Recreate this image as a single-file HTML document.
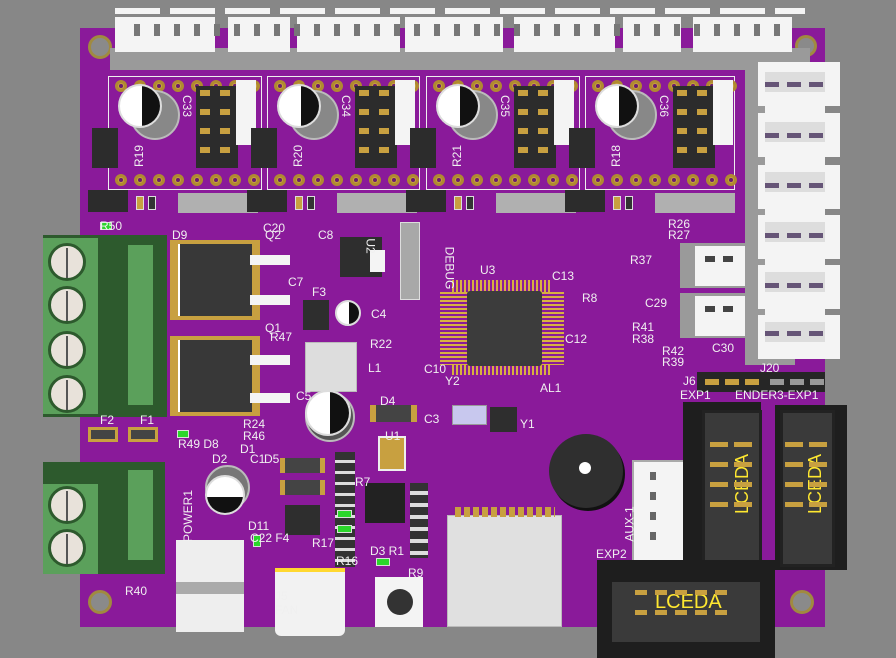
<!DOCTYPE html>
<html><head><meta charset="utf-8"><style>
*{margin:0;padding:0;box-sizing:border-box}
body{width:896px;height:658px;background:#878787;position:relative;overflow:hidden;font-family:"Liberation Sans",sans-serif}
div{position:absolute}
.b{background:#8a1a9a}
.w{background:#f4f4f4}
.g{background:#9a9a9a}
.dk{background:#2e2e2e}
.pad{width:12px;height:12px;border-radius:50%;background:#c8a040;border:3px solid #b08a30}
.pad::after{content:"";position:absolute;left:1px;top:1px;width:4px;height:4px;border-radius:50%;background:#6a1a70}
.t{color:#f0f0f0;font-size:12px;line-height:12px;white-space:nowrap}
.cap{border-radius:50%;background:#fff;border:2px solid #ddd;overflow:hidden}
.cap::after{content:"";position:absolute;right:0;top:0;width:45%;height:100%;background:#111}
.cyl{border-radius:50%;background:#8a8a8a;border:2px solid #bbb}
.smd{background:#c8a040;border:1px solid #ddd}
.r{background:#333;border:1px solid #ddd}
.led{background:#2bd62b;border:1px solid #ddd}
.scr{width:38px;height:38px;border-radius:50%;background:#e8e2da;border:3px solid #2d5a2d}
.scr::after{content:"";position:absolute;left:15px;top:2px;width:2px;height:30px;background:#555}
.hole{border-radius:50%;background:#8a8a8a;border:3px solid #a08a40}
</style></head><body>

<div class="b" style="left:80px;top:28px;width:745px;height:599px"></div>
<div class="hole" style="left:88px;top:35px;width:24px;height:24px"></div>
<div class="hole" style="left:88px;top:590px;width:24px;height:24px"></div>
<div class="hole" style="left:790px;top:590px;width:24px;height:24px"></div>
<div class="hole" style="left:795px;top:35px;width:22px;height:22px"></div>

<!-- top connectors -->
<div class="g" style="left:110px;top:48px;width:700px;height:22px"></div>
<div class="w" style="left:115px;top:17px;width:100px;height:35px"></div>
<div class="w" style="left:228px;top:17px;width:62px;height:35px"></div>
<div class="w" style="left:297px;top:17px;width:103px;height:35px"></div>
<div class="w" style="left:405px;top:17px;width:98px;height:35px"></div>
<div class="w" style="left:514px;top:17px;width:101px;height:35px"></div>
<div class="w" style="left:623px;top:17px;width:58px;height:35px"></div>
<div class="w" style="left:693px;top:17px;width:99px;height:35px"></div>
<div class="w" style="left:115px;top:8px;width:690px;height:6px;background:repeating-linear-gradient(90deg,#f4f4f4 0 45px,#878787 45px 55px)"></div>
<div style="left:120px;top:24px;width:670px;height:12px;background:repeating-linear-gradient(90deg,transparent 0 14px,#777 14px 20px)"></div>

<div id="m"></div>

<!-- right connectors -->
<div class="g" style="left:745px;top:60px;width:50px;height:305px"></div>
<div class="w" style="left:758px;top:62px;width:82px;height:44px"></div>
<div class="w" style="left:758px;top:113px;width:82px;height:44px"></div>
<div class="w" style="left:758px;top:165px;width:82px;height:44px"></div>
<div class="w" style="left:758px;top:215px;width:82px;height:44px"></div>
<div class="w" style="left:758px;top:265px;width:82px;height:44px"></div>
<div class="w" style="left:758px;top:315px;width:82px;height:44px"></div>
<div style="left:765px;top:72px;width:60px;height:285px;background:repeating-linear-gradient(180deg,#ddd 0 20px,#f4f4f4 20px 50px)"></div>
<div style="left:765px;top:82px;width:60px;height:5px;background:repeating-linear-gradient(90deg,#665577 0 14px,transparent 14px 22px)"></div>
<div style="left:765px;top:133px;width:60px;height:5px;background:repeating-linear-gradient(90deg,#665577 0 14px,transparent 14px 22px)"></div>
<div style="left:765px;top:183px;width:60px;height:5px;background:repeating-linear-gradient(90deg,#665577 0 14px,transparent 14px 22px)"></div>
<div style="left:765px;top:233px;width:60px;height:5px;background:repeating-linear-gradient(90deg,#665577 0 14px,transparent 14px 22px)"></div>
<div style="left:765px;top:283px;width:60px;height:5px;background:repeating-linear-gradient(90deg,#665577 0 14px,transparent 14px 22px)"></div>
<div style="left:765px;top:331px;width:60px;height:5px;background:repeating-linear-gradient(90deg,#665577 0 14px,transparent 14px 22px)"></div>
<div class="g" style="left:680px;top:243px;width:75px;height:45px"></div>
<div class="w" style="left:695px;top:246px;width:50px;height:40px"></div>
<div class="g" style="left:680px;top:293px;width:75px;height:45px"></div>
<div class="w" style="left:695px;top:296px;width:50px;height:40px"></div>
<div style="left:705px;top:256px;width:30px;height:6px;background:repeating-linear-gradient(90deg,#444 0 10px,transparent 10px 18px)"></div>
<div style="left:705px;top:306px;width:30px;height:6px;background:repeating-linear-gradient(90deg,#444 0 10px,transparent 10px 18px)"></div>

<!-- terminal blocks -->
<div style="left:43px;top:235px;width:124px;height:182px;background:#2d5a2d"></div>
<div style="left:43px;top:238px;width:55px;height:176px;background:#5ba05b"></div>
<div style="left:128px;top:245px;width:25px;height:160px;background:#5ba05b"></div>
<div class="scr" style="left:48px;top:243px"></div>
<div class="scr" style="left:48px;top:286px"></div>
<div class="scr" style="left:48px;top:331px"></div>
<div class="scr" style="left:48px;top:375px"></div>
<div style="left:43px;top:462px;width:122px;height:112px;background:#2d5a2d"></div>
<div style="left:43px;top:484px;width:55px;height:90px;background:#5ba05b"></div>
<div style="left:128px;top:470px;width:25px;height:90px;background:#5ba05b"></div>
<div class="scr" style="left:48px;top:486px"></div>
<div class="scr" style="left:48px;top:529px"></div>

<!-- mosfets -->
<div style="left:170px;top:240px;width:90px;height:80px;background:#c8a040"></div>
<div style="left:178px;top:244px;width:74px;height:72px;background:#383838;border-left:2px solid #fff"></div>
<div style="left:170px;top:336px;width:90px;height:80px;background:#c8a040"></div>
<div style="left:178px;top:340px;width:74px;height:72px;background:#383838;border-left:2px solid #fff"></div>
<div class="w" style="left:250px;top:255px;width:40px;height:10px"></div>
<div class="w" style="left:250px;top:295px;width:40px;height:10px"></div>
<div class="w" style="left:250px;top:355px;width:40px;height:10px"></div>
<div class="w" style="left:250px;top:393px;width:40px;height:10px"></div>

<!-- center parts -->
<div class="dk" style="left:340px;top:237px;width:42px;height:40px"></div>
<div class="w" style="left:370px;top:250px;width:15px;height:22px"></div>
<div style="left:400px;top:222px;width:20px;height:78px;background:#a8a8a8;border:1px solid #ddd"></div>
<div class="dk" style="left:303px;top:300px;width:26px;height:30px"></div>
<div class="cap" style="left:335px;top:300px;width:26px;height:26px"></div>
<div style="left:305px;top:342px;width:52px;height:50px;background:#ddd;border:1px solid #bbb"></div>
<div class="cyl" style="left:305px;top:392px;width:50px;height:50px;background:#555"></div>
<div class="cap" style="left:305px;top:390px;width:46px;height:46px"></div>
<div style="left:452px;top:280px;width:100px;height:95px;background:repeating-linear-gradient(90deg,#d8b040 0 2px,#8a1a9a 2px 4px)"></div>
<div style="left:440px;top:292px;width:124px;height:73px;background:repeating-linear-gradient(180deg,#d8b040 0 2px,#8a1a9a 2px 4px)"></div>
<div style="left:467px;top:291px;width:75px;height:75px;background:#3c3c3c;border-radius:3px"></div>
<div style="left:370px;top:405px;width:47px;height:17px;background:#444;border-left:6px solid #c8a040;border-right:6px solid #c8a040"></div>
<div style="left:378px;top:436px;width:28px;height:35px;background:#c8a040;border:2px solid #eee"></div>
<div class="dk" style="left:365px;top:483px;width:40px;height:40px;background:#222"></div>
<div style="left:452px;top:405px;width:35px;height:20px;background:#c8c8ee;border:1px solid #999"></div>
<div class="dk" style="left:490px;top:407px;width:27px;height:25px"></div>
<div style="left:280px;top:458px;width:45px;height:15px;background:#444;border-left:5px solid #c8a040;border-right:5px solid #c8a040"></div>
<div style="left:280px;top:480px;width:45px;height:15px;background:#444;border-left:5px solid #c8a040;border-right:5px solid #c8a040"></div>
<div class="dk" style="left:285px;top:505px;width:35px;height:30px"></div>

<div class="cyl" style="left:205px;top:465px;width:45px;height:45px;background:#777"></div>
<div class="cap" style="left:205px;top:475px;width:40px;height:40px;transform:rotate(90deg)"></div>

<div style="left:335px;top:452px;width:20px;height:115px;background:repeating-linear-gradient(180deg,#333 0 8px,#ddd 8px 11px)"></div>
<div class="led" style="left:337px;top:510px;width:15px;height:8px"></div>
<div class="led" style="left:337px;top:525px;width:15px;height:8px"></div>
<div style="left:410px;top:483px;width:18px;height:75px;background:repeating-linear-gradient(180deg,#333 0 8px,#ddd 8px 12px)"></div>
<div class="led" style="left:100px;top:222px;width:12px;height:8px"></div>
<div class="led" style="left:177px;top:430px;width:12px;height:8px"></div>
<div class="led" style="left:253px;top:535px;width:8px;height:12px"></div>
<div class="led" style="left:376px;top:558px;width:14px;height:8px"></div>

<div style="left:88px;top:427px;width:30px;height:15px;background:#444;border:3px solid #c8a040"></div>
<div style="left:128px;top:427px;width:30px;height:15px;background:#444;border:3px solid #c8a040"></div>

<div class="w" style="left:176px;top:540px;width:68px;height:42px;background:#eee"></div>
<div class="g" style="left:176px;top:582px;width:68px;height:12px;background:#aaa"></div>
<div class="w" style="left:176px;top:594px;width:68px;height:38px;background:#eee"></div>
<div style="left:275px;top:568px;width:70px;height:68px;background:#f2f2f2;border-radius:0 0 6px 6px;border-top:4px solid #ffd830"></div>
<div class="w" style="left:375px;top:577px;width:48px;height:50px"></div>
<div style="left:387px;top:589px;width:26px;height:26px;border-radius:50%;background:#333"></div>

<div style="left:447px;top:515px;width:115px;height:112px;background:#e0e0e0;border:1px solid #bbb"></div>
<div style="left:455px;top:507px;width:100px;height:10px;background:repeating-linear-gradient(90deg,#c8a040 0 6px,transparent 6px 9px)"></div>

<div style="left:549px;top:434px;width:74px;height:74px;border-radius:50%;background:#2f2f2f;box-shadow:2px 3px 0 #111"></div>
<div style="left:579px;top:462px;width:12px;height:12px;border-radius:50%;background:#fff"></div>

<div class="w" style="left:632px;top:460px;width:54px;height:105px;border:2px solid #aaa"></div>
<div style="left:650px;top:472px;width:6px;height:80px;background:repeating-linear-gradient(180deg,#666 0 8px,transparent 8px 20px)"></div>

<div style="left:697px;top:372px;width:128px;height:20px;background:#262626"></div>
<div style="left:705px;top:379px;width:60px;height:6px;background:repeating-linear-gradient(90deg,#c8a040 0 14px,transparent 14px 20px)"></div>
<div style="left:770px;top:379px;width:60px;height:6px;background:repeating-linear-gradient(90deg,#999 0 14px,transparent 14px 20px)"></div>

<div style="left:683px;top:402px;width:78px;height:170px;background:#1e1e1e"></div>
<div style="left:702px;top:410px;width:60px;height:157px;background:#3a3a3a;border:3px solid #222"></div>
<div style="left:775px;top:405px;width:72px;height:165px;background:#1e1e1e"></div>
<div style="left:780px;top:410px;width:55px;height:157px;background:#3a3a3a;border:3px solid #222"></div>
<div style="left:597px;top:560px;width:178px;height:98px;background:#1e1e1e"></div>
<div style="left:612px;top:582px;width:148px;height:60px;background:#3a3a3a"></div>
<div class="t" style="left:655px;top:592px;font-size:20px;color:#ffe830;line-height:20px">LCEDA</div>
<div class="t" style="left:712px;top:478px;font-size:18px;color:#ffe830;transform:rotate(-90deg)">LCEDA</div>
<div class="t" style="left:785px;top:478px;font-size:18px;color:#ffe830;transform:rotate(-90deg)">LCEDA</div>
<div style="left:710px;top:442px;width:46px;height:80px;background:repeating-linear-gradient(180deg,#c8a040 0 5px,transparent 5px 20px);-webkit-mask:repeating-linear-gradient(90deg,#000 0 18px,transparent 18px 24px)"></div>
<div style="left:785px;top:442px;width:46px;height:80px;background:repeating-linear-gradient(180deg,#c8a040 0 5px,transparent 5px 20px);-webkit-mask:repeating-linear-gradient(90deg,#000 0 18px,transparent 18px 24px)"></div>
<div style="left:635px;top:590px;width:100px;height:40px;background:repeating-linear-gradient(180deg,#c8a040 0 5px,transparent 5px 20px);-webkit-mask:repeating-linear-gradient(90deg,#000 0 12px,transparent 12px 20px)"></div>

<!-- labels -->
<div class="t" style="left:100px;top:220px">R50</div>
<div class="t" style="left:172px;top:229px">D9</div>
<div class="t" style="left:265px;top:229px">Q2</div>
<div class="t" style="left:265px;top:322px">Q1</div>
<div class="t" style="left:270px;top:331px">R47</div>
<div class="t" style="left:263px;top:222px">C20</div>
<div class="t" style="left:318px;top:229px">C8</div>
<div class="t" style="left:288px;top:276px">C7</div>
<div class="t" style="left:312px;top:286px">F3</div>
<div class="t" style="left:371px;top:308px">C4</div>
<div class="t" style="left:370px;top:338px">R22</div>
<div class="t" style="left:368px;top:362px">L1</div>
<div class="t" style="left:296px;top:390px">C5</div>
<div class="t" style="left:243px;top:418px">R24</div>
<div class="t" style="left:243px;top:430px">R46</div>
<div class="t" style="left:178px;top:438px">R49 D8</div>
<div class="t" style="left:212px;top:453px">D2</div>
<div class="t" style="left:250px;top:453px">C1</div>
<div class="t" style="left:100px;top:414px">F2</div>
<div class="t" style="left:140px;top:414px">F1</div>
<div class="t" style="left:380px;top:395px">D4</div>
<div class="t" style="left:424px;top:413px">C3</div>
<div class="t" style="left:385px;top:430px">U1</div>
<div class="t" style="left:424px;top:363px">C10</div>
<div class="t" style="left:445px;top:375px">Y2</div>
<div class="t" style="left:480px;top:264px">U3</div>
<div class="t" style="left:552px;top:270px">C13</div>
<div class="t" style="left:582px;top:292px">R8</div>
<div class="t" style="left:565px;top:333px">C12</div>
<div class="t" style="left:540px;top:382px">AL1</div>
<div class="t" style="left:520px;top:418px">Y1</div>
<div class="t" style="left:428px;top:262px;transform:rotate(90deg)">DEBUG</div>
<div class="t" style="left:363px;top:240px;transform:rotate(90deg)">U2</div>
<div class="t" style="left:645px;top:297px">C29</div>
<div class="t" style="left:632px;top:321px">R41</div>
<div class="t" style="left:632px;top:333px">R38</div>
<div class="t" style="left:662px;top:345px">R42</div>
<div class="t" style="left:662px;top:356px">R39</div>
<div class="t" style="left:712px;top:342px">C30</div>
<div class="t" style="left:668px;top:218px">R26</div>
<div class="t" style="left:668px;top:229px">R27</div>
<div class="t" style="left:630px;top:254px">R37</div>
<div class="t" style="left:683px;top:375px">J6</div>
<div class="t" style="left:760px;top:362px">J20</div>
<div class="t" style="left:680px;top:389px">EXP1</div>
<div class="t" style="left:735px;top:389px">ENDER3-EXP1</div>
<div class="t" style="left:596px;top:548px">EXP2</div>
<div class="t" style="left:612px;top:518px;transform:rotate(-90deg)">AUX-1</div>
<div class="t" style="left:275px;top:590px">J5</div>
<div class="t" style="left:275px;top:604px">FAN</div>
<div class="t" style="left:125px;top:585px">R40</div>
<div class="t" style="left:250px;top:532px">C22 F4</div>
<div class="t" style="left:312px;top:537px">R17</div>
<div class="t" style="left:336px;top:555px">R16</div>
<div class="t" style="left:370px;top:545px">D3 R1</div>
<div class="t" style="left:408px;top:567px">R9</div>
<div class="t" style="left:248px;top:520px">D11</div>
<div class="t" style="left:162px;top:510px;transform:rotate(-90deg)">POWER1</div>
<div class="t" style="left:240px;top:443px">D1</div>
<div class="t" style="left:264px;top:453px">D5</div>
<div class="t" style="left:355px;top:476px">R7</div>

<script>
var m=document.getElementById('m'),h='';
[108,267,426,585].forEach(function(x,i){
 var w=[154,153,154,150][i];
 h+='<div style="left:'+x+'px;top:76px;width:'+w+'px;height:114px;border:1px solid #eee"></div>';
 for(var k=0;k<8;k++){h+='<div class="pad" style="left:'+(x+7+k*19)+'px;top:80px"></div><div class="pad" style="left:'+(x+7+k*19)+'px;top:174px"></div>';}
 h+='<div class="cyl" style="left:'+(x+22)+'px;top:90px;width:50px;height:50px;background:#888"></div>';
 h+='<div class="cap" style="left:'+(x+10)+'px;top:84px;width:44px;height:44px"></div>';
 h+='<div style="left:'+(x+88)+'px;top:86px;width:42px;height:82px;background:#2c2c2c"></div>';
 h+='<div style="left:'+(x+92)+'px;top:90px;width:34px;height:70px;background:repeating-linear-gradient(180deg,#c8a040 0 6px,transparent 6px 19px);-webkit-mask:repeating-linear-gradient(90deg,#000 0 10px,transparent 10px 20px)"></div>';
 h+='<div class="w" style="left:'+(x+128)+'px;top:80px;width:20px;height:65px"></div>';
 h+='<div style="left:'+(x-16)+'px;top:128px;width:26px;height:40px;background:#2c2c2c"></div>';
 h+='<div style="left:'+(x-20)+'px;top:190px;width:40px;height:22px;background:#2c2c2c"></div>';
 h+='<div class="smd" style="left:'+(x+28)+'px;top:196px;width:8px;height:14px"></div>';
 h+='<div class="r" style="left:'+(x+40)+'px;top:196px;width:8px;height:14px"></div>';
 h+='<div style="left:'+(x+70)+'px;top:193px;width:80px;height:20px;background:#b0b0b0"></div>';
 h+='<div class="t" style="left:'+(x+68)+'px;top:100px;transform:rotate(90deg)">C'+(33+i)+'</div>';
 h+='<div class="t" style="left:'+(x+20)+'px;top:150px;transform:rotate(-90deg)">R'+[19,20,21,18][i]+'</div>';
});
m.outerHTML=h;
</script>
</body></html>
